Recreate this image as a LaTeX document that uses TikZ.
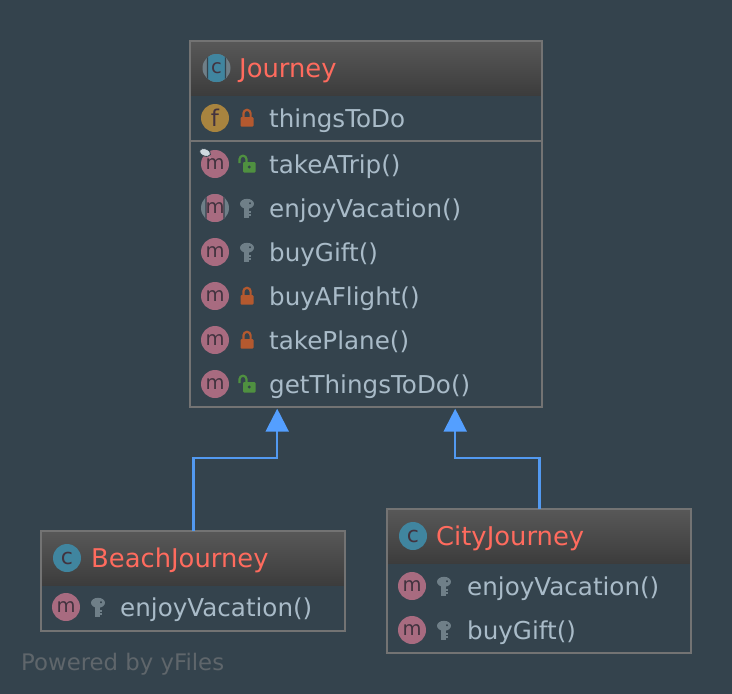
\documentclass[tikz,border=0pt]{standalone}
\usepackage{fontspec}
\usepackage{xcolor}
\setmainfont{DejaVu Sans}
\usetikzlibrary{arrows.meta}

\definecolor{bgcolor}{HTML}{34434D}
\definecolor{framecolor}{HTML}{737373}
\definecolor{headtop}{HTML}{585858}
\definecolor{headbottom}{HTML}{3C3C3C}
\definecolor{titlecolor}{HTML}{FF6B5E}
\definecolor{membercolor}{HTML}{A9BBC8}
\definecolor{classcolor}{HTML}{40859F}
\definecolor{methodcolor}{HTML}{A86B80}
\definecolor{fieldcolor}{HTML}{A8843F}
\definecolor{ringcolor}{HTML}{6F7F88}
\definecolor{lockcolor}{HTML}{B4592F}
\definecolor{opencolor}{HTML}{4F9040}
\definecolor{keycolor}{HTML}{6F7F88}
\definecolor{linecolor}{HTML}{5299F0}
\definecolor{tipcolor}{HTML}{549FFF}
\definecolor{glyphcolor}{HTML}{42333F}
\definecolor{poweredcolor}{HTML}{5F666B}

\tikzset{
  frame/.style={draw=framecolor, line width=2pt, inner sep=0pt, outer sep=0pt, anchor=north west},
  classhead/.style={top color=headtop, bottom color=headbottom, inner sep=0pt, outer sep=0pt, anchor=north west},
  section/.style={inner sep=0pt, outer sep=0pt, anchor=north west},
  title/.style={text=titlecolor, inner sep=0pt, anchor=west, font=\fontsize{25.8}{28}\selectfont, text height=23pt, text depth=5pt},
  member/.style={text=membercolor, inner sep=0pt, anchor=west, font=\fontsize{24.6}{28}\selectfont, text height=23pt, text depth=5pt},
  icon/.style={circle, inner sep=0pt, minimum size=28pt, text=glyphcolor, font=\fontsize{19.5}{19}\selectfont},
  cicon/.style={icon, fill=classcolor, font=\fontsize{22}{22}\selectfont},
  micon/.style={icon, fill=methodcolor},
  ficon/.style={icon, fill=fieldcolor, font=\fontsize{23}{23}\selectfont},
  abstract/.style={icon, fill=ringcolor, path picture={\draw[bgcolor, line width=1.4pt, fill=#1, rounded corners=3pt] ([xshift=-9pt,yshift=-15pt]path picture bounding box.center) rectangle ([xshift=9pt,yshift=15pt]path picture bounding box.center);}},
  powered/.style={text=poweredcolor, inner sep=0pt, anchor=west, font=\fontsize{22.8}{24}\selectfont, text height=23pt, text depth=5pt},
  inherits/.style={draw=linecolor, line width=2.3pt, -{Triangle[length=23pt,width=23pt,color=tipcolor]}},
  lockicon/.pic={
    \draw[lockcolor, line width=2.2pt] (-3.6,0) -- (-3.6,-4.6) arc (180:360:3.6) -- (3.6,0);
    \fill[lockcolor, rounded corners=1pt] (-6.5,-1) rectangle (6.5,8.5);
  },
  openicon/.pic={
    \draw[opencolor, line width=2.2pt] (-7.5,-1) -- (-7.5,-4.8) arc (180:360:3.5) -- (-0.5,-1);
    \fill[opencolor, rounded corners=1pt] (-3.8,-2) rectangle (8.5,8.5);
    \fill[bgcolor] (2.2,3) circle (1.6);
  },
  keyicon/.pic={
    \fill[keycolor, even odd rule] (0,-4.2) ellipse (7 and 5) (3,-4.8) circle (1.4);
    \fill[keycolor] (-3,-2) rectangle (2.2,10);
    \fill[keycolor] (1,2.5) rectangle (4.3,4.7);
    \fill[keycolor] (1,6.2) rectangle (3.6,8.2);
  },
  pinicon/.pic={
    \fill[methodcolor!45!white] (0,0) -- (6,6) -- (1.5,1) -- cycle;
    \draw[bgcolor, line width=0.8pt, fill=membercolor!55!white, rotate=-20] (0,0) ellipse (5.8 and 3.6);
  },
}

\begin{document}
\begin{tikzpicture}[x=1pt, y=-1pt]
  \fill[bgcolor, use as bounding box] (0,0) rectangle (732,694);

  % Journey
  \node[classhead, minimum width=352pt, minimum height=55pt] (journeyhead) at (189.7,40.8) {};
  \node[section, minimum width=352pt, minimum height=45pt] (journeyfields) at (journeyhead.south west) {};
  \node[frame, minimum width=352pt, minimum height=366pt] (journey) at (189.7,40.8) {};
  \draw[framecolor, line width=2pt] (journeyfields.south west) -- (journeyfields.south east);
  \node[abstract=classcolor] (journeyicon) at (216.5,68) {c};
  \node[title] (journeytitle) at (239,68) {Journey};
  \node[ficon] (thingsicon) at (215,118) {f};
  \pic at (247,118) {lockicon};
  \node[member] (thingslabel) at (269,118) {thingsToDo};
  \node[micon] (tripicon) at (215,164) {m};
  \pic at (205,152.5) {pinicon};
  \pic at (247,164) {openicon};
  \node[member] (triplabel) at (269,164) {takeATrip()};
  \node[abstract=methodcolor] (vacationicon) at (215,208) {m};
  \pic at (247,208) {keyicon};
  \node[member] (vacationlabel) at (269,208) {enjoyVacation()};
  \node[micon] (gifticon) at (215,252) {m};
  \pic at (247,252) {keyicon};
  \node[member] (giftlabel) at (269,252) {buyGift()};
  \node[micon] (flighticon) at (215,296) {m};
  \pic at (247,296) {lockicon};
  \node[member] (flightlabel) at (269,296) {buyAFlight()};
  \node[micon] (planeicon) at (215,340) {m};
  \pic at (247,340) {lockicon};
  \node[member] (planelabel) at (269,340) {takePlane()};
  \node[micon] (geticon) at (215,384) {m};
  \pic at (247,384) {openicon};
  \node[member] (getlabel) at (269,384) {getThingsToDo()};

  % BeachJourney
  \node[classhead, minimum width=304pt, minimum height=55pt] (beachhead) at (41,530.8) {};
  \node[frame, minimum width=304pt, minimum height=100pt] (beach) at (41,530.8) {};
  \node[cicon] (beachicon) at (67,558) {c};
  \node[title] (beachtitle) at (91,558) {BeachJourney};
  \node[micon] (beachvacicon) at (66,607) {m};
  \pic at (98,607) {keyicon};
  \node[member] (beachvaclabel) at (120,607) {enjoyVacation()};

  % CityJourney
  \node[classhead, minimum width=304pt, minimum height=55pt] (cityhead) at (387,508.8) {};
  \node[frame, minimum width=304pt, minimum height=144pt] (city) at (387,508.8) {};
  \node[cicon] (cityicon) at (413,536) {c};
  \node[title] (citytitle) at (436,536) {CityJourney};
  \node[micon] (cityvacicon) at (412,586) {m};
  \pic at (444,586) {keyicon};
  \node[member] (cityvaclabel) at (467,586) {enjoyVacation()};
  \node[micon] (citygifticon) at (412,630) {m};
  \pic at (444,630) {keyicon};
  \node[member] (citygiftlabel) at (467,630) {buyGift()};

  \node[powered] (poweredlabel) at (21,661) {Powered by yFiles};

  % inheritance
  \coordinate (beachtip) at ([xshift=-88.5pt,yshift=-1.9pt]journey.south);
  \coordinate (citytip) at ([xshift=89.5pt,yshift=-1.9pt]journey.south);
  \draw[inherits] ([xshift=0.5pt]beach.north) -- ++(0,-72.5) -| (beachtip);
  \draw[inherits] ([xshift=0.5pt]city.north) -- ++(0,-50.5) -| (citytip);
\end{tikzpicture}
\end{document}
